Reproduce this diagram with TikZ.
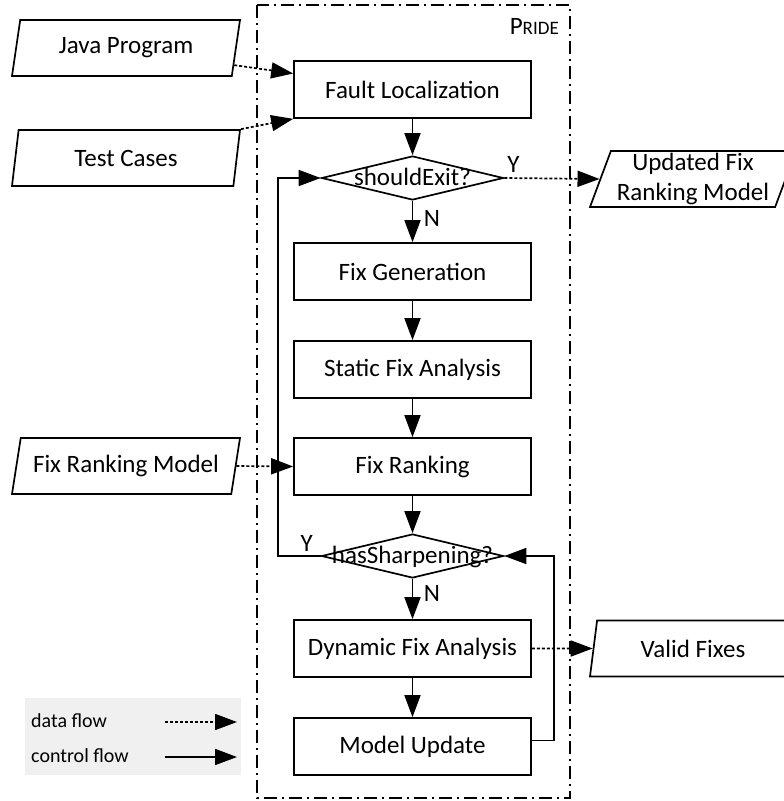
\documentclass[tikz,border=0pt]{standalone}
\usepackage{fontspec}
\setmainfont{Carlito}
\usetikzlibrary{shapes.geometric,arrows.meta,positioning}

% text of a decision, allowed to run over the diamond
\newcommand{\condtext}[1]{\makebox[0pt]{\smash{\raisebox{-7pt}{#1}}}}

\begin{document}
\begin{tikzpicture}[x=1pt,y=-1pt,
	every node/.style={font=\fontsize{25}{30}\selectfont},
	procbox/.style={draw,line width=1.7pt,minimum width=237pt,minimum height=57pt,inner sep=0pt},
	decision/.style={diamond,draw,line width=1.7pt,minimum width=182pt,minimum height=44pt,inner sep=0pt},
	iobox/.style={trapezium,trapezium left angle=68,trapezium right angle=112,trapezium stretches body,draw,line width=1.7pt,minimum height=56pt,inner sep=0pt,align=center},
	ctrl/.style={line width=1.7pt,-{Triangle[length=22pt,width=16pt]}},
	data/.style={ctrl,dash pattern=on 3pt off 2pt},
	lbl/.style={inner sep=0pt},
	legtext/.style={anchor=west,inner sep=0pt,font=\fontsize{20}{23}\selectfont}]
	\useasboundingbox (0,0) rectangle (784,801);

	% frame of the tool
	\draw[line width=1.7pt,dash pattern=on 13pt off 5pt on 2pt off 5pt] (257,5) rectangle (570,798);
	\node[anchor=east,inner sep=0pt] (pride) at (559,26) {P{\fontsize{19}{20}\selectfont RIDE}};

	% main flow
	\node[procbox] (fl) at (412.5,89.5) {Fault Localization};
	\node[decision] (se) at (412.5,178) {\condtext{shouldExit?}};
	\node[procbox] (fg) at (412.5,271.5) {Fix Generation};
	\node[procbox] (sfa) at (412.5,369.5) {Static Fix Analysis};
	\node[procbox] (fr) at (412.5,466.5) {Fix Ranking};
	\node[decision] (hs) at (412.5,556) {\condtext{hasSharpening?}};
	\node[procbox] (dfa) at (412.5,648.5) {Dynamic Fix Analysis};
	\node[procbox] (mu) at (412.5,746.5) {Model Update};

	% inputs and outputs
	\node[iobox,minimum width=228pt] (jp) at (126,48) {Java Program};
	\node[iobox,minimum width=228pt] (tc) at (126,158) {Test Cases};
	\node[iobox,minimum width=228pt] (frm) at (126,466) {Fix Ranking Model};
	\node[iobox,minimum width=206pt] (upd) at (693,179) {Updated Fix\\Ranking Model};
	\node[iobox,minimum width=206pt] (vf) at (693,648.5) {Valid Fixes};

	\path[ctrl] (fl) edge (se)
		(se) edge (fg)
		(fg) edge (sfa)
		(sfa) edge (fr)
		(fr) edge (hs)
		(hs) edge (dfa)
		(dfa) edge (mu);
	\draw[ctrl] (hs.west) -- ++(-43,0) |- (se.west);
	\draw[ctrl] ([yshift=6pt]mu.east) -- ++(22,0) |- (hs.east);

	\path[data] (jp.-9) edge ([yshift=16pt]fl.west)
		(tc.top right corner) edge (fl.south west)
		(frm.east) edge (fr.west)
		(se.east) edge (upd.west)
		(dfa.east) edge (vf.west);

	\node[lbl] (ye) at ([xshift=9pt,yshift=14pt]se.east) {Y};
	\node[lbl] (ne) at ([xshift=19.5pt,yshift=-18pt]se.south) {N};
	\node[lbl] (yh) at ([xshift=-14pt,yshift=13pt]hs.west) {Y};
	\node[lbl] (nh) at ([xshift=19.5pt,yshift=-15pt]hs.south) {N};

	% legend
	\fill[gray!12] (25,698) rectangle (241,775);
	\node[legtext] (ldata) at (31,721) {data flow};
	\node[legtext] (lctrl) at (31,756) {control flow};
	\coordinate (ds) at (165,722);
	\coordinate (de) at (237,722);
	\coordinate (cs) at (165,757);
	\coordinate (ce) at (237,757);
	\draw[data] (ds) -- (de);
	\draw[ctrl] (cs) -- (ce);
\end{tikzpicture}
\end{document}
